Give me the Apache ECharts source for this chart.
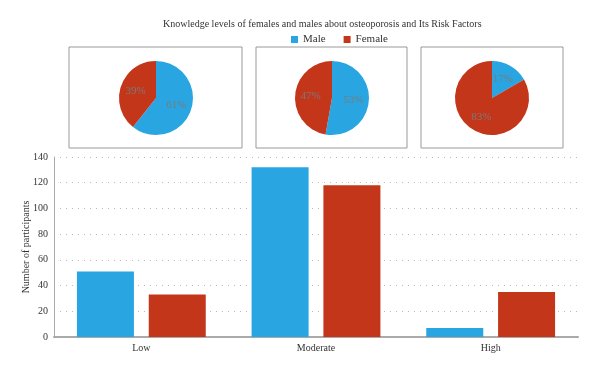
<!DOCTYPE html>
<html><head><meta charset="utf-8">
<script src="https://cdn.jsdelivr.net/npm/echarts@6/dist/echarts.min.js"></script>
<style>html,body{margin:0;padding:0;background:#fff}#c{width:600px;height:372px}</style>
</head><body><div id="c"></div>
<script>
const categories = ['Low', 'Moderate', 'High'];
const maleValues = [51, 132, 7];
const femaleValues = [33, 118, 35];
const yTicks = [0, 20, 40, 60, 80, 100, 120, 140];
const seriesNames = ['Male', 'Female'];
const BLUE = '#29a6e2', RED = '#c4361a';
const FONT = '"Liberation Serif", "DejaVu Serif", serif';

const pieCenters = [[156, 98], [332, 98], [492, 98]];
const boxes = [[69, 47, 173, 101], [256, 47, 151, 101], [421, 47, 142, 101]];

const pies = categories.map((c, i) => ({
  type: 'pie', name: c, center: pieCenters[i], radius: 37, startAngle: 90,
  silent: true, animation: false,
  label: { position: 'inside', color: '#7a7a7a', fontFamily: FONT, fontSize: 11,
    formatter: p => Math.round(p.percent) + '%' },
  labelLine: { show: false },
  data: [
    { name: 'Male', value: maleValues[i], itemStyle: { color: BLUE } },
    { name: 'Female', value: femaleValues[i], itemStyle: { color: RED } }
  ]
}));

const chart = echarts.init(document.getElementById('c'));
chart.setOption({
  animation: false,
  title: { text: 'Knowledge levels of females and males about osteoporosis and Its Risk Factors',
    left: 158, top: 14, textStyle: { fontFamily: FONT, fontSize: 10, fontWeight: 'normal', color: '#333' } },
  legend: { data: seriesNames, left: 286, top: 29, icon: 'rect', itemWidth: 7, itemHeight: 7, itemGap: 18,
    textStyle: { fontFamily: FONT, fontSize: 11, color: '#333' } },
  graphic: boxes.map(b => ({ type: 'rect', shape: { x: b[0], y: b[1], width: b[2], height: b[3] },
    style: { fill: 'none', stroke: '#999', lineWidth: 1 }, z: 0 })),
  grid: { left: 54, right: 22, top: 157, bottom: 35 },
  xAxis: { type: 'category', data: categories,
    axisLine: { lineStyle: { color: '#aaa', width: 2 } }, axisTick: { show: false },
    axisLabel: { fontFamily: FONT, fontSize: 10, color: '#333', margin: 6 } },
  yAxis: { type: 'value', min: yTicks[0], max: yTicks[yTicks.length - 1], interval: 20,
    name: 'Number of participants', nameLocation: 'middle', nameGap: 23, nameRotate: 90,
    nameMoveOverlap: false,
    nameTextStyle: { fontFamily: FONT, fontSize: 10, color: '#333' },
    axisLine: { show: true, lineStyle: { color: '#aaa', width: 1 } }, axisTick: { show: false },
    axisLabel: { fontFamily: FONT, fontSize: 10, color: '#333', margin: 6 },
    splitLine: { lineStyle: { type: [1, 5], color: '#bbb', width: 1 } } },
  series: [
    { type: 'bar', name: 'Male', data: maleValues, barWidth: 57, barGap: '26%', itemStyle: { color: BLUE } },
    { type: 'bar', name: 'Female', data: femaleValues, barWidth: 57, barGap: '26%', itemStyle: { color: RED } },
    ...pies
  ]
});
</script></body></html>
